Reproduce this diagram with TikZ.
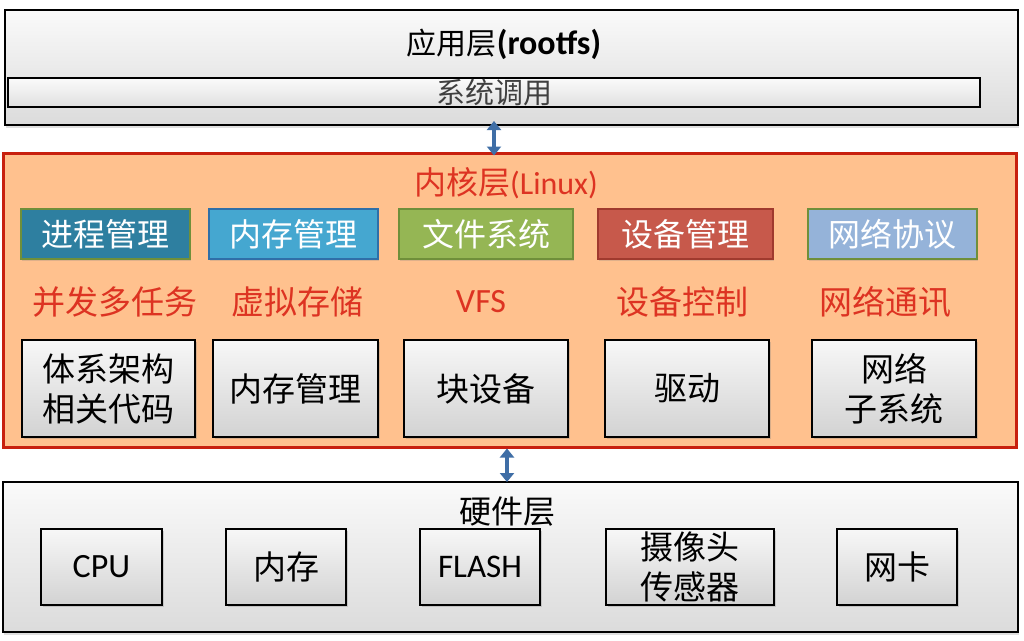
\documentclass[tikz,border=0pt]{standalone}
\usepackage{fontspec}
\setmainfont{Carlito}
\newfontfamily\cjk{Noto Sans CJK SC}
\usetikzlibrary{arrows.meta,shadows}

\definecolor{kernelfill}{HTML}{FFC18E}
\definecolor{kernelline}{HTML}{C8200E}
\definecolor{labelred}{HTML}{DD3322}
\definecolor{arrowblue}{HTML}{3F6EA6}
\definecolor{procfill}{HTML}{2E7FA0}
\definecolor{memfill}{HTML}{45A7D0}
\definecolor{fsfill}{HTML}{95B654}
\definecolor{devfill}{HTML}{C7594B}
\definecolor{netfill}{HTML}{95B3D9}
\definecolor{olive}{HTML}{6F8F3A}
\definecolor{memline}{HTML}{2F6FA8}
\definecolor{devline}{HTML}{A03A2E}

\begin{document}
\begin{tikzpicture}[
  x=1pt, y=-1pt,
  layer/.style={draw=black, line width=2pt, top color=gray!4, bottom color=gray!28,
    drop shadow={opacity=0.25, shadow xshift=1pt, shadow yshift=-3pt}},
  graybox/.style={draw=black, line width=1.5pt, top color=gray!6, bottom color=gray!35,
    drop shadow={opacity=0.3, shadow xshift=1.5pt, shadow yshift=-2pt},
    inner sep=0pt, align=center, font=\cjk\fontsize{33}{40}\selectfont},
  tagbox/.style={line width=2.5pt, minimum height=50, inner sep=0pt, text=white,
    drop shadow={opacity=0.25, shadow xshift=1pt, shadow yshift=-2pt},
    font=\cjk\fontsize{32}{36}\selectfont},
  redlabel/.style={text=labelred, inner sep=0pt, font=\cjk\fontsize{33}{36}\selectfont},
  biarrow/.style={draw=arrowblue, line width=4.5pt,
    {Triangle[length=9pt,width=14pt]}-{Triangle[length=9pt,width=14pt]}}
]
\useasboundingbox (0,0) rectangle (1024,640);

% application layer
\node[layer, minimum width=1013, minimum height=115] (app) at (511.5,67.5) {};
\node[font=\fontsize{34}{36}\selectfont] (apptitle) at (504,44) {{\cjk\fontsize{30}{36}\selectfont 应用层}\textbf{(rootfs)}};
\node[draw=black, line width=1.5pt, top color=gray!3, bottom color=gray!25,
  minimum width=972, minimum height=29, inner sep=0pt, text=black!75,
  font=\cjk\fontsize{29}{29}\selectfont] (sys) at (494,92.5) {系统调用};

% kernel layer
\node[draw=kernelline, fill=kernelfill, line width=3pt,
  minimum width=1013, minimum height=294] (kernel) at (509.5,300) {};
\node[text=labelred, font=\fontsize{32}{34}\selectfont] (ktitle) at (506,183) {{\cjk 内核层}(Linux)};

\node[tagbox, draw=olive, fill=procfill, minimum width=169] (proc) at (105.5,234) {进程管理};
\node[tagbox, draw=memline, fill=memfill, minimum width=169] (mem) at (293.5,234) {内存管理};
\node[tagbox, draw=olive, fill=fsfill, minimum width=174] (fs) at (486,234) {文件系统};
\node[tagbox, draw=devline, fill=devfill, minimum width=175] (dev) at (685.5,234) {设备管理};
\node[tagbox, draw=olive, fill=netfill, minimum width=169] (net) at (892.5,234) {网络协议};

\node[redlabel] (procl) at (115,302) {并发多任务};
\node[redlabel] (meml) at (297,302) {虚拟存储};
\node[redlabel, font=\fontsize{34}{36}\selectfont] (fsl) at (481,302) {VFS};
\node[redlabel] (devl) at (682,302) {设备控制};
\node[redlabel] (netl) at (885,302) {网络通讯};

\node[graybox, minimum width=173, minimum height=97] (arch) at (108.5,388.5) {体系架构\\相关代码};
\node[graybox, minimum width=165, minimum height=97] (mm) at (295.5,388.5) {内存管理};
\node[graybox, minimum width=164, minimum height=97] (blk) at (486,388.5) {块设备};
\node[graybox, minimum width=164, minimum height=97] (drv) at (687,388.5) {驱动};
\node[graybox, minimum width=164, minimum height=97] (netsub) at (894,388.5) {网络\\子系统};

% hardware layer
\node[layer, minimum width=1015, minimum height=150] (hw) at (510.5,557) {};
\node[font=\cjk\fontsize{32}{34}\selectfont] (hwtitle) at (507,512) {硬件层};

\node[graybox, minimum width=121, minimum height=76, font=\fontsize{34}{40}\selectfont] (cpu) at (101.5,567) {CPU};
\node[graybox, minimum width=120, minimum height=76] (ram) at (286,567) {内存};
\node[graybox, minimum width=120, minimum height=76, font=\fontsize{33}{40}\selectfont] (flash) at (480,567) {FLASH};
\node[graybox, minimum width=168, minimum height=76] (cam) at (690,567) {摄像头\\传感器};
\node[graybox, minimum width=120, minimum height=76] (nic) at (897,567) {网卡};

% connections between layers
\draw[biarrow, shorten <=-5pt, shorten >=-4pt] (app.south -| sys.center) -- (kernel.north -| sys.center);
\draw[biarrow, shorten >=-1pt] (kernel.south -| hwtitle.center) -- (hw.north -| hwtitle.center);
\end{tikzpicture}
\end{document}
